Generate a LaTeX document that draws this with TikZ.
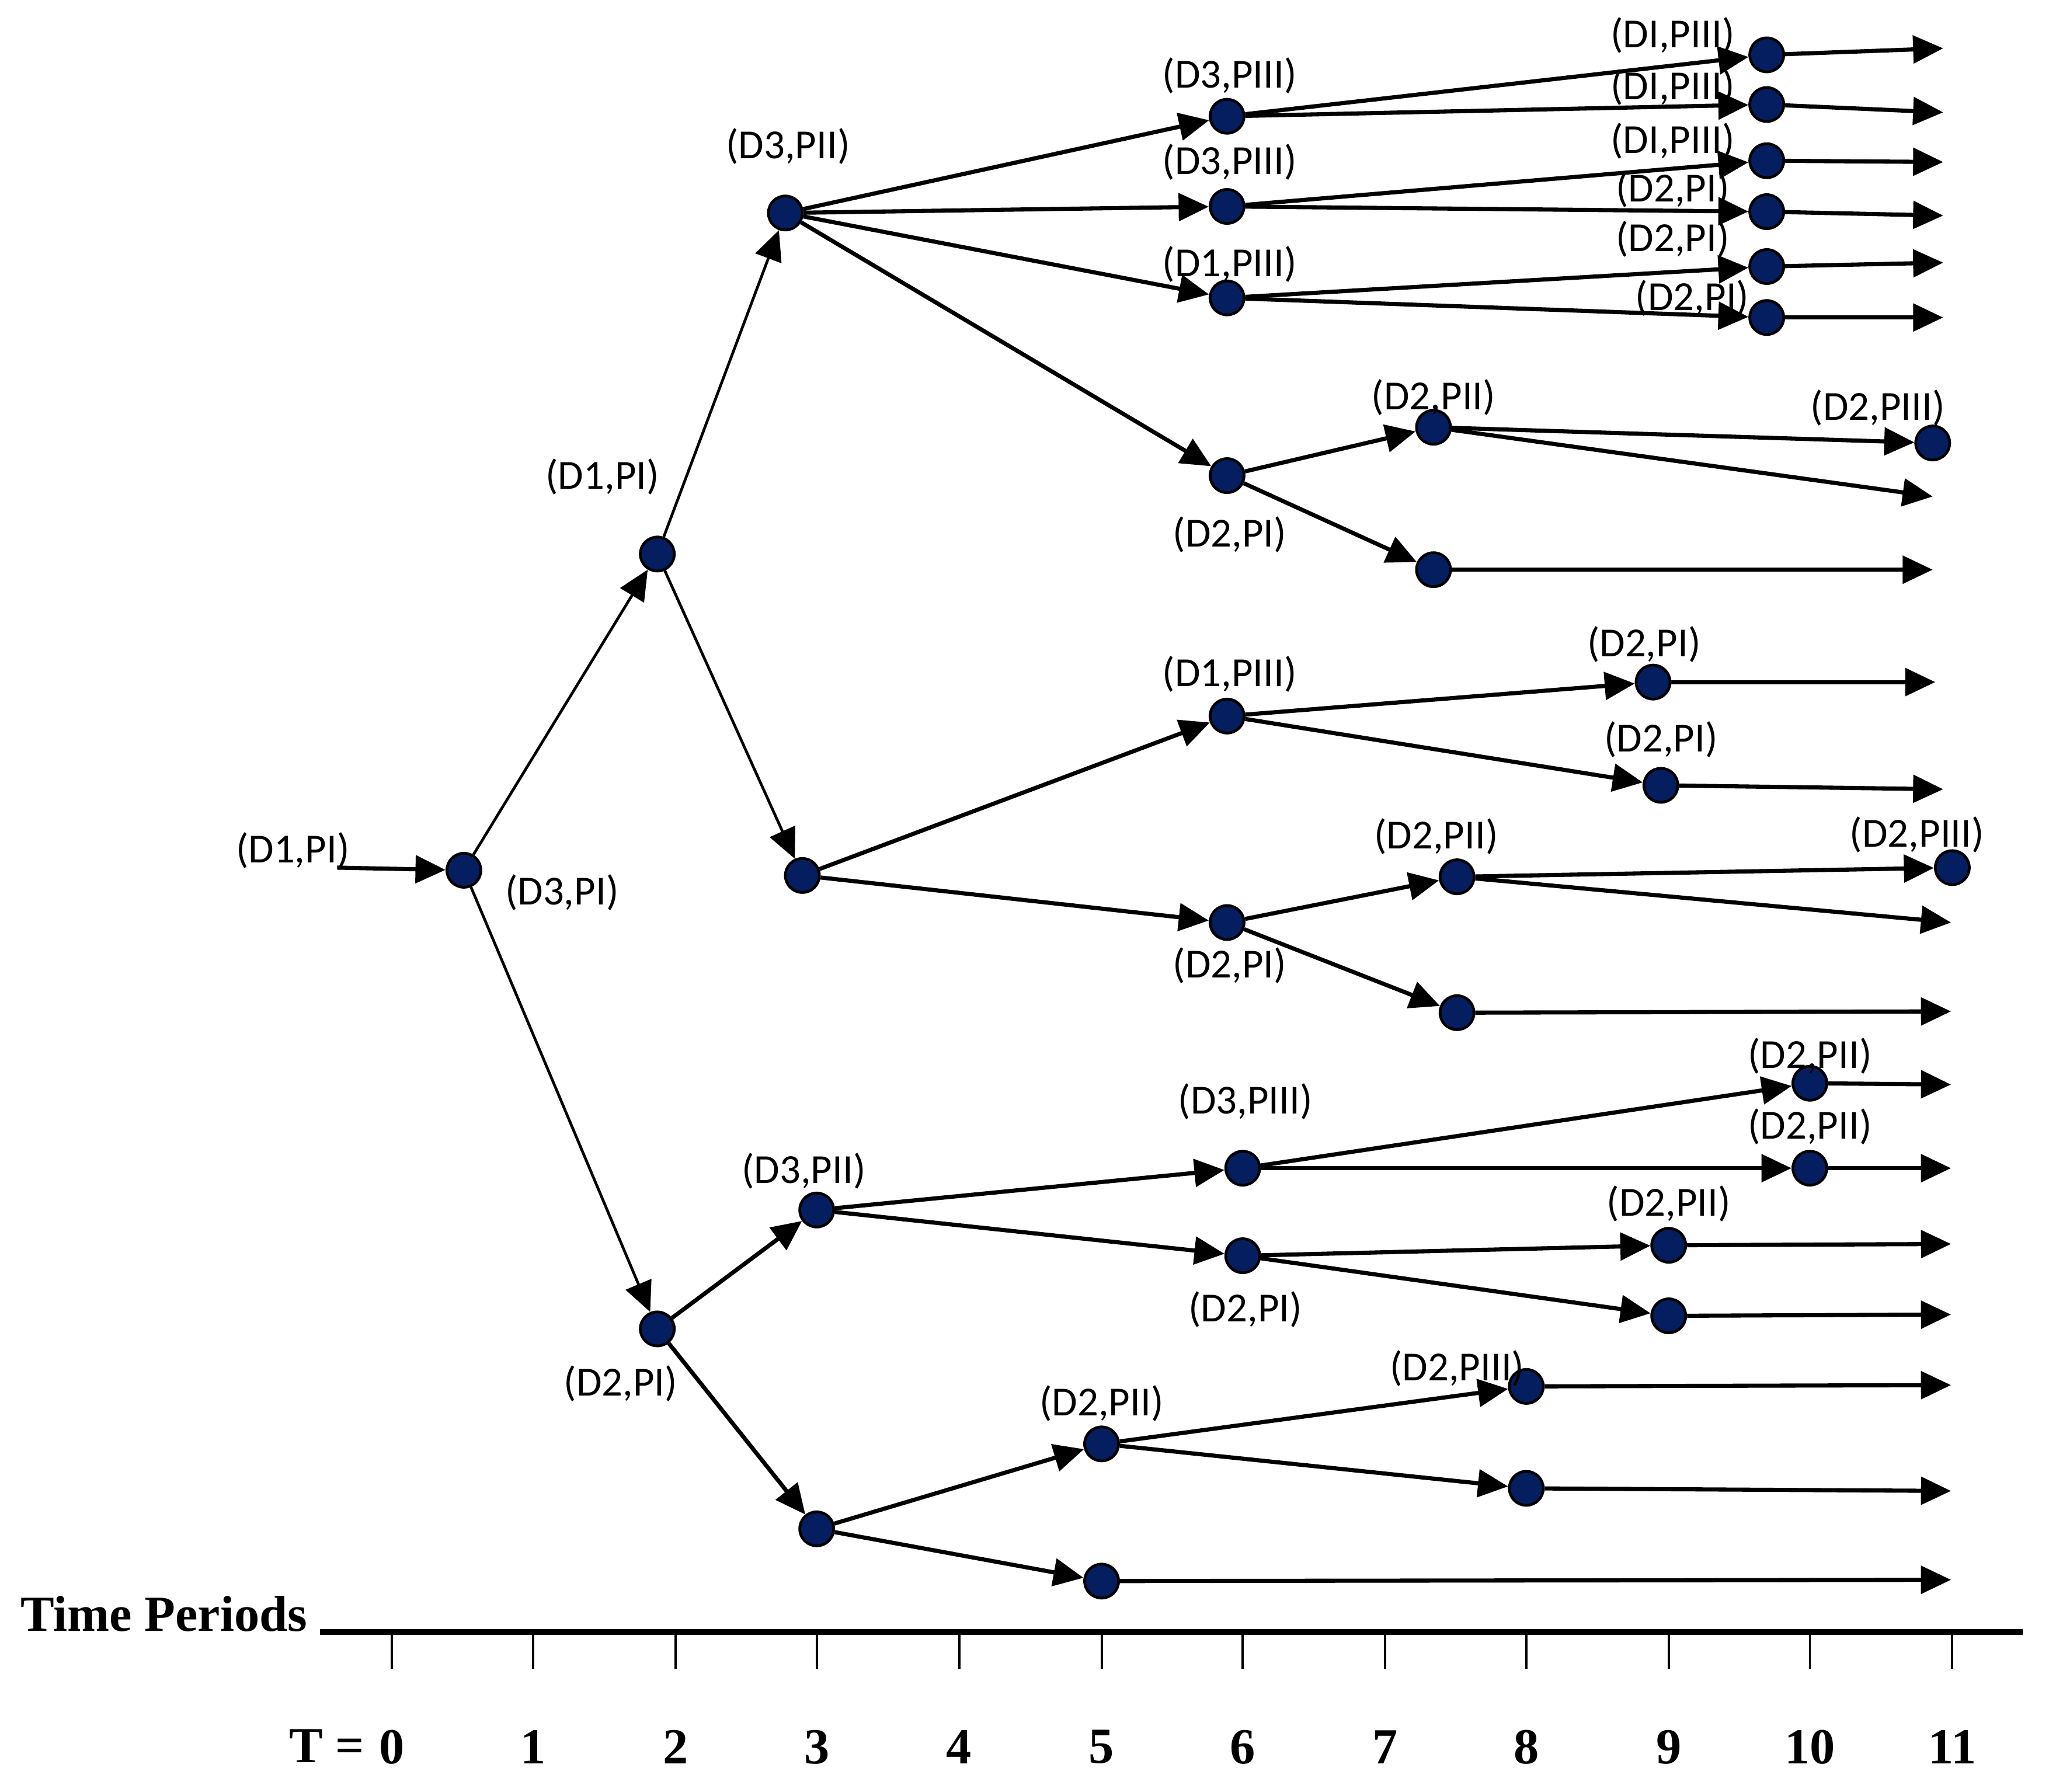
\documentclass[tikz,border=0pt]{standalone}
\usepackage{fontspec}
\usepackage{tikz}
\usetikzlibrary{arrows.meta}
\newfontfamily\labfont{Carlito}
\newfontfamily\axfont{Liberation Serif}
\definecolor{nodeblue}{RGB}{5,30,95}

\tikzset{
  state/.style={circle,draw=black,fill=nodeblue,minimum size=2.6mm,inner sep=0pt,line width=0.6pt},
  arr/.style={-{Triangle[length=2.3mm,width=2.1mm]},line width=0.9pt},
  thinarr/.style={arr,line width=0.6pt},
  lab/.style={font=\labfont\fontsize{9}{11}\selectfont,inner sep=0pt},
  ax/.style={font=\axfont\bfseries\fontsize{11}{13}\selectfont,inner sep=0pt},
}

\begin{document}
\begin{tikzpicture}[x=0.1mm,y=-0.1mm]
\useasboundingbox (0,0) rectangle (1568,1371);

% nodes
\coordinate (in) at (258,664);
\node[state] (r) at (355,666) {};

\node[state] (u) at (503,424) {};
\node[state] (d) at (503,1017) {};

\node[state] (ua) at (601,163) {};
\node[state] (ub) at (614,670) {};
\node[state] (da) at (625,926) {};
\node[state] (db) at (625,1170) {};

\node[state] (uaa) at (939,89) {};
\node[state] (uab) at (939,158) {};
\node[state] (uac) at (939,228) {};
\node[state] (uad) at (939,364) {};

\node[state] (uaaa) at (1352,42) {};
\node[state] (uaab) at (1352,80) {};
\node[state] (uaba) at (1352,123) {};
\node[state] (uabb) at (1352,162) {};
\node[state] (uaca) at (1352,204) {};
\node[state] (uacb) at (1352,243) {};

\node[state] (uada) at (1097,327) {};
\node[state] (uadb) at (1097,436) {};
\node[state] (uadaa) at (1479,339) {};

\node[state] (uba) at (939,548) {};
\node[state] (ubb) at (939,706) {};
\node[state] (ubaa) at (1265,522) {};
\node[state] (ubab) at (1271,601) {};
\node[state] (ubba) at (1115,671) {};
\node[state] (ubbb) at (1115,775) {};
\node[state] (ubbaa) at (1494,664) {};

\node[state] (daa) at (951,894) {};
\node[state] (dab) at (951,961) {};
\node[state] (daaa) at (1385,829) {};
\node[state] (daab) at (1385,894) {};
\node[state] (daba) at (1277,953) {};
\node[state] (dabb) at (1277,1007) {};

\node[state] (dba) at (843,1105) {};
\node[state] (dbb) at (843,1210) {};
\node[state] (dbaa) at (1168,1061) {};
\node[state] (dbab) at (1168,1139) {};

% free ends
\coordinate (e1) at (1487,37);
\coordinate (e2) at (1487,86);
\coordinate (e3) at (1487,124);
\coordinate (e4) at (1487,165);
\coordinate (e5) at (1487,201);
\coordinate (e6) at (1487,243);
\coordinate (e7) at (1479,380);
\coordinate (e8) at (1479,436);
\coordinate (e9) at (1481,522);
\coordinate (e10) at (1487,604);
\coordinate (e11) at (1493,706);
\coordinate (e12) at (1493,774);
\coordinate (e13) at (1493,830);
\coordinate (e14) at (1493,894);
\coordinate (e15) at (1493,952);
\coordinate (e16) at (1493,1006);
\coordinate (e17) at (1493,1060);
\coordinate (e18) at (1493,1141);
\coordinate (e19) at (1493,1209);

% connectors
\draw[arr] (in) -- (r);
\draw[thinarr] (r) -- (u);
\draw[thinarr] (r) -- (d);
\draw[thinarr] (u) -- (ua);
\draw[thinarr] (u) -- (ub);
\draw[arr] (d) -- (da);
\draw[arr] (d) -- (db);

\draw[arr] (ua) -- (uaa);
\draw[arr] (ua) -- (uab);
\draw[arr] (ua) -- (uac);
\draw[arr] (ua) -- (uad);
\draw[arr] (uaa) -- (uaaa);
\draw[arr] (uaa) -- (uaab);
\draw[arr] (uab) -- (uaba);
\draw[arr] (uab) -- (uabb);
\draw[arr] (uac) -- (uaca);
\draw[arr] (uac) -- (uacb);
\draw[arr] (uaaa) -- (e1);
\draw[arr] (uaab) -- (e2);
\draw[arr] (uaba) -- (e3);
\draw[arr] (uabb) -- (e4);
\draw[arr] (uaca) -- (e5);
\draw[arr] (uacb) -- (e6);
\draw[arr] (uad) -- (uada);
\draw[arr] (uad) -- (uadb);
\draw[arr] (uada) -- (uadaa);
\draw[arr] (uada) -- (e7);
\draw[arr] (uadb) -- (e8);

\draw[arr] (ub) -- (uba);
\draw[arr] (ub) -- (ubb);
\draw[arr] (uba) -- (ubaa);
\draw[arr] (uba) -- (ubab);
\draw[arr] (ubaa) -- (e9);
\draw[arr] (ubab) -- (e10);
\draw[arr] (ubb) -- (ubba);
\draw[arr] (ubb) -- (ubbb);
\draw[arr] (ubba) -- (ubbaa);
\draw[arr] (ubba) -- (e11);
\draw[arr] (ubbb) -- (e12);

\draw[arr] (da) -- (daa);
\draw[arr] (da) -- (dab);
\draw[arr] (daa) -- (daaa);
\draw[arr] (daa) -- (daab);
\draw[arr] (daaa) -- (e13);
\draw[arr] (daab) -- (e14);
\draw[arr] (dab) -- (daba);
\draw[arr] (dab) -- (dabb);
\draw[arr] (daba) -- (e15);
\draw[arr] (dabb) -- (e16);

\draw[arr] (db) -- (dba);
\draw[arr] (db) -- (dbb);
\draw[arr] (dba) -- (dbaa);
\draw[arr] (dba) -- (dbab);
\draw[arr] (dbaa) -- (e17);
\draw[arr] (dbab) -- (e18);
\draw[arr] (dbb) -- (e19);

% labels
\node[lab] (l-in) at (224,651) {(D1,PI)};
\node[lab] (l-r) at (430,683) {(D3,PI)};
\node[lab] (l-u) at (461,365) {(D1,PI)};
\node[lab] (l-d) at (475,1059) {(D2,PI)};
\node[lab] (l-ua) at (603,112) {(D3,PII)};
\node[lab] (l-da) at (615,896) {(D3,PII)};

\node[lab] (l-uaa) at (941,58) {(D3,PIII)};
\node[lab] (l-uab) at (941,124) {(D3,PIII)};
\node[lab] (l-uac) at (941,202) {(D1,PIII)};
\node[lab] (l-uad) at (941,409) {(D2,PI)};
\node[lab] (l-uaaa) at (1280,27) {(DI,PIII)};
\node[lab] (l-uaab) at (1280,67) {(DI,PIII)};
\node[lab] (l-uaba) at (1280,108) {(DI,PIII)};
\node[lab] (l-uabb) at (1280,145) {(D2,PI)};
\node[lab] (l-uaca) at (1280,183) {(D2,PI)};
\node[lab] (l-uacb) at (1295,228) {(D2,PI)};
\node[lab] (l-uada) at (1097,304) {(D2,PII)};
\node[lab] (l-uadaa) at (1437,312) {(D2,PIII)};

\node[lab] (l-uba) at (941,516) {(D1,PIII)};
\node[lab] (l-ubb) at (941,739) {(D2,PI)};
\node[lab] (l-ubaa) at (1258,493) {(D2,PI)};
\node[lab] (l-ubab) at (1271,566) {(D2,PI)};
\node[lab] (l-ubba) at (1099,640) {(D2,PII)};
\node[lab] (l-ubbaa) at (1467,639) {(D2,PIII)};

\node[lab] (l-daa) at (953,843) {(D3,PIII)};
\node[lab] (l-dab) at (953,1002) {(D2,PI)};
\node[lab] (l-daaa) at (1385,808) {(D2,PII)};
\node[lab] (l-daab) at (1385,862) {(D2,PII)};
\node[lab] (l-daba) at (1277,921) {(D2,PII)};
\node[lab] (l-dba) at (843,1074) {(D2,PII)};
\node[lab] (l-dbaa) at (1115,1047) {(D2,PIII)};

% time axis
\node[ax,anchor=west] (tp) at (15,1235) {Time Periods};
\draw[line width=1.2pt] (245,1249) -- (1548,1249);
\draw[line width=0.5pt] (300,1249) -- (300,1277);
\draw[line width=0.5pt] (408,1249) -- (408,1277);
\draw[line width=0.5pt] (517,1249) -- (517,1277);
\draw[line width=0.5pt] (625,1249) -- (625,1277);
\draw[line width=0.5pt] (734,1249) -- (734,1277);
\draw[line width=0.5pt] (843,1249) -- (843,1277);
\draw[line width=0.5pt] (951,1249) -- (951,1277);
\draw[line width=0.5pt] (1060,1249) -- (1060,1277);
\draw[line width=0.5pt] (1168,1249) -- (1168,1277);
\draw[line width=0.5pt] (1277,1249) -- (1277,1277);
\draw[line width=0.5pt] (1385,1249) -- (1385,1277);
\draw[line width=0.5pt] (1494,1249) -- (1494,1277);

\node[ax] (teq) at (250,1336) {T =};
\node[ax] (t0) at (300,1337) {0};
\node[ax] (t1) at (408,1337) {1};
\node[ax] (t2) at (517,1337) {2};
\node[ax] (t3) at (625,1337) {3};
\node[ax] (t4) at (734,1337) {4};
\node[ax] (t5) at (843,1337) {5};
\node[ax] (t6) at (951,1337) {6};
\node[ax] (t7) at (1060,1337) {7};
\node[ax] (t8) at (1168,1337) {8};
\node[ax] (t9) at (1277,1337) {9};
\node[ax] (t10) at (1385,1337) {10};
\node[ax] (t11) at (1494,1337) {11};

\end{tikzpicture}
\end{document}
